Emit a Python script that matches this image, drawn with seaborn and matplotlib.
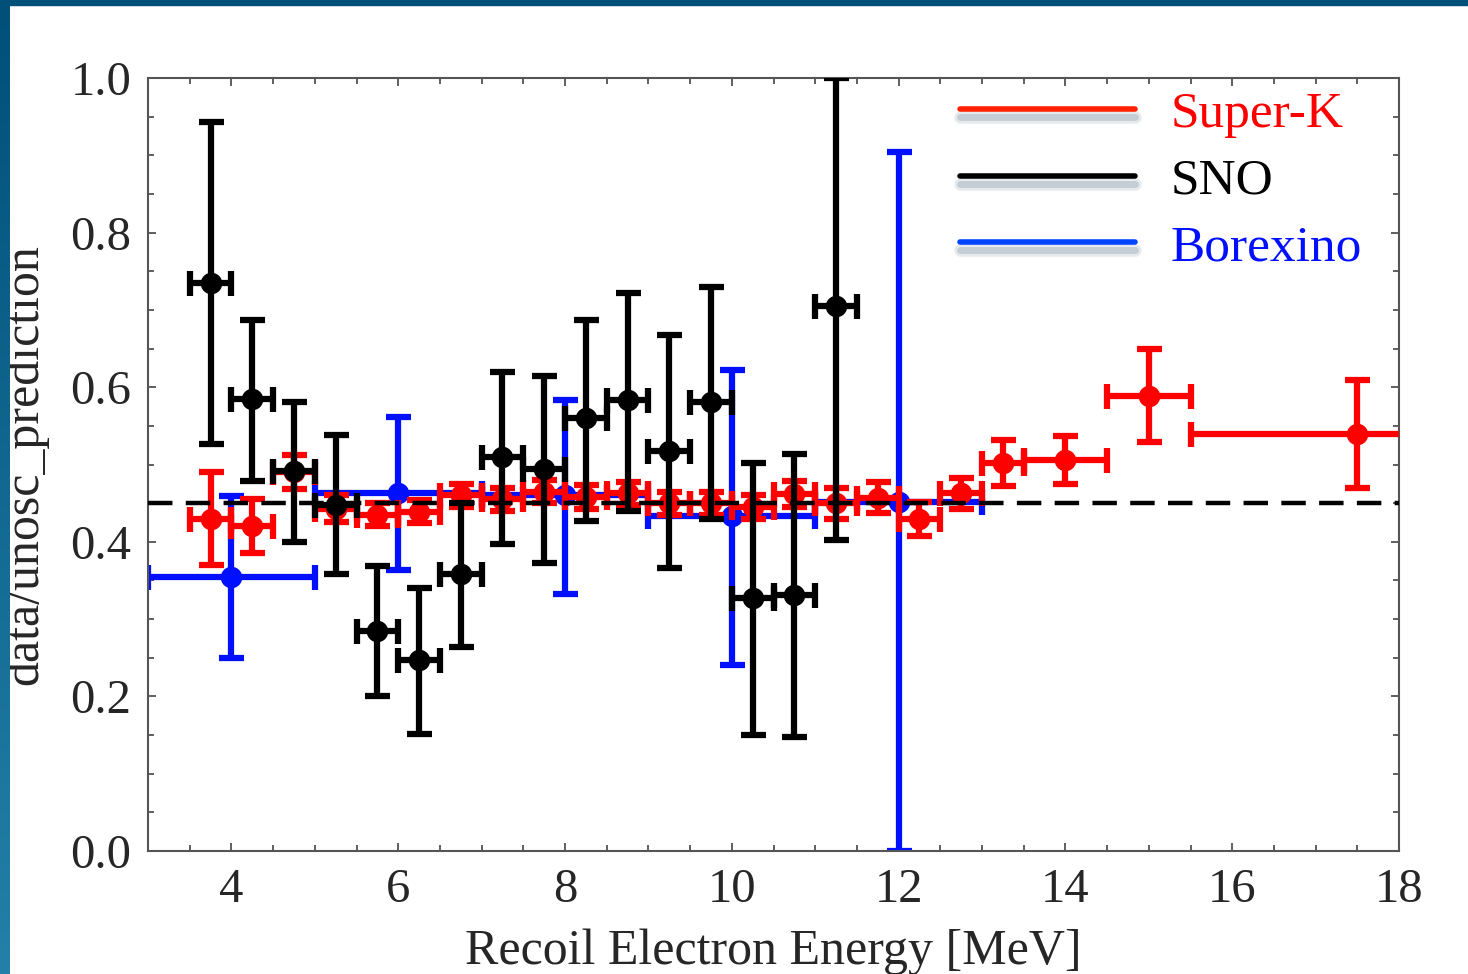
import numpy as np
import pandas as pd
import matplotlib
matplotlib.use("Agg")
import matplotlib.pyplot as plt
import matplotlib.patheffects as pe
from matplotlib.ticker import MultipleLocator, FormatStrFormatter
from matplotlib.lines import Line2D
from matplotlib.colors import LinearSegmentedColormap
import seaborn as sns

# ---------------- data ----------------
sk_x = [3.75, 4.25, 4.75, 5.25, 5.75, 6.25, 6.75, 7.25, 7.75, 8.25, 8.75, 9.25, 9.75,
        10.25, 10.75, 11.25, 11.75, 12.25, 12.75, 13.25, 14.0, 15.0, 17.5]
sk_y = [0.43, 0.42, 0.49, 0.443, 0.435, 0.439, 0.46, 0.455, 0.465, 0.458, 0.463, 0.45, 0.45,
        0.445, 0.462, 0.45, 0.457, 0.429, 0.463, 0.502, 0.506, 0.589, 0.539]
sk_yerr = [0.06, 0.035, 0.022, 0.018, 0.015, 0.015, 0.015, 0.015, 0.015, 0.015, 0.015, 0.015, 0.015,
           0.015, 0.017, 0.02, 0.02, 0.022, 0.02, 0.03, 0.031, 0.06, 0.07]
sk_xerr = [0.25] * 20 + [0.5, 0.5, 2.0]

sno_x = [3.75, 4.25, 4.75, 5.25, 5.75, 6.25, 6.75, 7.25, 7.75, 8.25, 8.75, 9.25, 9.75,
         10.25, 10.75, 11.25]
sno_y = [0.735, 0.585, 0.492, 0.448, 0.285, 0.247, 0.358, 0.51, 0.494, 0.56, 0.583, 0.517, 0.581,
         0.327, 0.331, 0.705]
sno_hi = [0.943, 0.687, 0.581, 0.538, 0.369, 0.34, 0.45, 0.62, 0.614, 0.687, 0.722, 0.667, 0.73,
          0.502, 0.514, 1.0]
sno_lo = [0.527, 0.479, 0.40, 0.358, 0.20, 0.151, 0.264, 0.397, 0.373, 0.427, 0.44, 0.366, 0.43,
          0.15, 0.147, 0.402]
sno_xerr = [0.25] * 16

bx_x = [4, 6, 8, 10, 12]
bx_y = [0.354, 0.463, 0.46, 0.433, 0.451]
bx_hi = [0.459, 0.561, 0.583, 0.622, 0.904]
bx_lo = [0.25, 0.363, 0.332, 0.24, 0.0]
bx_xerr = [1.0] * 5

ref_level = 0.45
series_names = ["Super-K", "SNO", "Borexino"]

# ---------------- style ----------------
sns.set_style("ticks")
plt.rcParams['font.family'] = ['Liberation Serif', 'DejaVu Serif']

RED = "#ff0000"
BLACK = "#000000"
BLUE = "#0010ff"

fig = plt.figure(figsize=(14.68, 9.74), dpi=100)
fig.patch.set_facecolor("white")
ax = fig.add_axes([148 / 1468, 1 - 851 / 974, (1399 - 148) / 1468, (851 - 78) / 974])

# slide decoration strips
strip = fig.add_axes([0, 0, 10 / 1468, 1])
grad = np.linspace(0, 1, 256).reshape(-1, 1)
cmap = LinearSegmentedColormap.from_list("s", ["#005079", "#2480a8"])
strip.imshow(grad, aspect="auto", cmap=cmap, extent=[0, 1, 0, 1], origin="upper")
strip.axis("off")
fig.patches.append(plt.Rectangle((0, 1 - 5 / 974), 1, 5 / 974, transform=fig.transFigure,
                                 color="#005079", zorder=10))

eb_kw = dict(fmt="none", elinewidth=4.5, capsize=9, capthick=4.5)

def draw(xs, ys, lo, hi, xerr, color, z):
    df = pd.DataFrame({"x": xs, "y": ys})
    yerr = np.array([np.array(ys) - np.array(lo), np.array(hi) - np.array(ys)])
    ax.errorbar(xs, ys, yerr=yerr, xerr=xerr, ecolor=color, zorder=z, **eb_kw)
    sns.scatterplot(data=df, x="x", y="y", ax=ax, color=color, s=240, marker="o",
                    edgecolor=color, linewidth=0, zorder=z + 0.5, legend=False)

draw(bx_x, bx_y, bx_lo, bx_hi, bx_xerr, BLUE, 2)
sk_lo = [y - e for y, e in zip(sk_y, sk_yerr)]
sk_hi = [y + e for y, e in zip(sk_y, sk_yerr)]
draw(sk_x, sk_y, sk_lo, sk_hi, sk_xerr, RED, 3)
draw(sno_x, sno_y, sno_lo, sno_hi, sno_xerr, BLACK, 4)

ax.axhline(ref_level, color="black", lw=3.2, dashes=(5.5, 3), zorder=6)

ax.set_xlim(3, 18)
ax.set_ylim(0, 1.0)
ax.xaxis.set_major_locator(MultipleLocator(2))
ax.xaxis.set_minor_locator(MultipleLocator(0.5))
ax.yaxis.set_major_locator(MultipleLocator(0.2))
ax.yaxis.set_minor_locator(MultipleLocator(0.05))
ax.yaxis.set_major_formatter(FormatStrFormatter("%.1f"))
ax.tick_params(which="both", direction="in", top=True, right=True, color="#444444", width=1.2)
ax.tick_params(which="major", length=6, labelsize=35, pad=12)
ax.tick_params(which="minor", length=4)
for s in ax.spines.values():
    s.set_color("#555555")
    s.set_linewidth(1.5)
    s.set_visible(True)

ax.set_xlabel("Recoil Electron Energy [MeV]", fontsize=36, labelpad=12)
ax.set_ylabel("data/unosc_prediction", fontsize=36, labelpad=16)

shadow = [pe.SimpleLineShadow(offset=(0, -6), shadow_color="#7a8ea0", alpha=0.18, linewidth=9),
          pe.SimpleLineShadow(offset=(0, -6), shadow_color="#7a8ea0", alpha=0.3, linewidth=5),
          pe.Normal()]
handles = [
    Line2D([], [], color="#ff2200", lw=4, path_effects=shadow),
    Line2D([], [], color=BLACK, lw=4, path_effects=shadow),
    Line2D([], [], color="#0044ff", lw=4, path_effects=shadow),
]
leg = ax.legend(handles, series_names, loc="upper left", bbox_to_anchor=(0.649, 0.983),
                frameon=False, fontsize=37, handlelength=3.4, handletextpad=0.7,
                labelspacing=0.38, borderpad=0, borderaxespad=0)
for t, c in zip(leg.get_texts(), [RED, BLACK, BLUE]):
    t.set_color(c)

fig.savefig("out.png", dpi=100, facecolor="white")
